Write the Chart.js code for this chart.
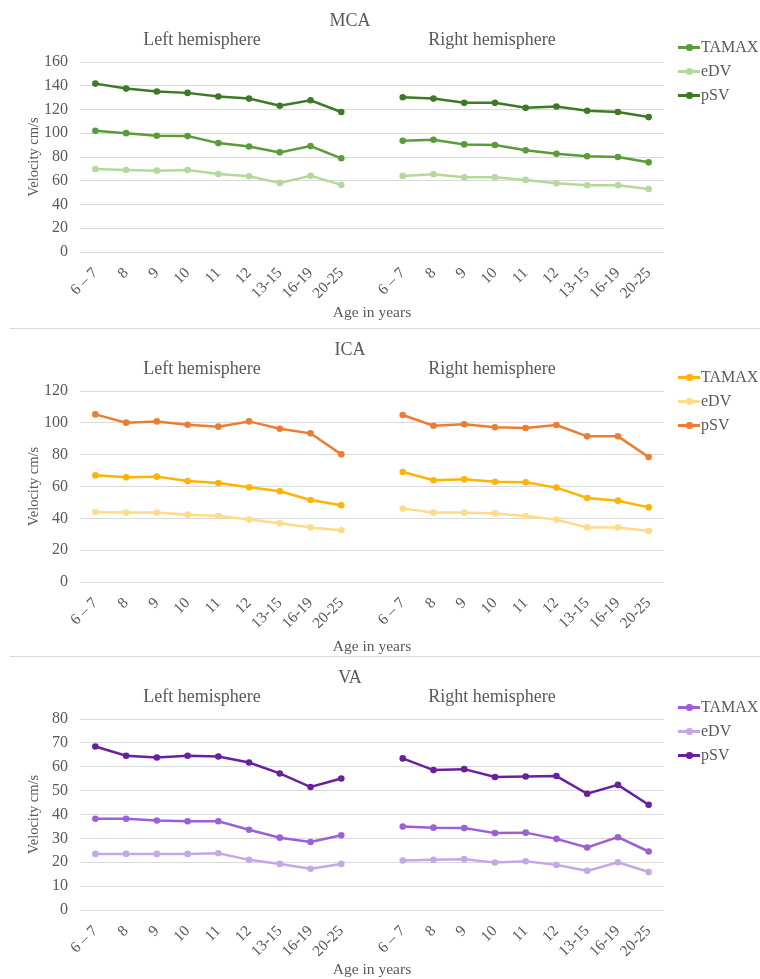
<!DOCTYPE html>
<html><head><meta charset="utf-8">
<script src="https://cdn.jsdelivr.net/npm/chart.js@4/dist/chart.umd.min.js"></script>
<style>
body{margin:0;background:#fff;}
#wrap{position:relative;width:760px;height:979px;overflow:hidden;font-family:"Liberation Serif","Times New Roman",serif;color:#595959;}
.panel{position:absolute;left:0;width:760px;}
.panel canvas{position:absolute;left:0;top:0;}
.sep{position:absolute;left:10px;width:750px;height:1px;background:#d9d9d9;}
.ttl{position:absolute;font-size:18px;white-space:nowrap;transform:translate(-50%,-50%);line-height:1;}
.legrow{position:absolute;left:678px;height:20px;white-space:nowrap;font-size:16px;line-height:20px;transform:translateY(-50%);}
.legline{position:absolute;left:0;top:9px;width:22px;height:2.5px;}
.legdot{position:absolute;left:8px;top:7px;width:6.5px;height:6.5px;border-radius:50%;}
.legtxt{position:absolute;left:23px;top:0;}
</style>
</head><body>
<div id="wrap"></div>
<script>
// ---------- data ----------
const ageGroups = ['6 – 7','8','9','10','11','12','13-15','16-19','20-25'];
const seriesNames = ['TAMAX','eDV','pSV'];
const panelTitles = ['MCA','ICA','VA'];
const sideTitles = ['Left hemisphere','Right hemisphere'];
const yAxisTitle = 'Velocity cm/s';
const xAxisTitle = 'Age in years';

const mcaLeftTAMAX  = [102.1,100.1,97.9,97.6,91.7,88.9,83.9,89.2,78.9];
const mcaLeftEDV    = [69.9,69.1,68.5,69.1,65.7,63.8,58.2,64.1,56.5];
const mcaLeftPSV    = [141.8,137.6,135.1,134.0,130.9,129.2,123.1,127.8,117.9];
const mcaRightTAMAX = [93.7,94.5,90.6,90.1,85.6,82.8,80.6,80.0,75.5];
const mcaRightEDV   = [64.1,65.5,63.0,63.0,60.7,57.9,56.2,56.2,53.1];
const mcaRightPSV   = [130.3,129.2,125.6,125.6,121.4,122.5,118.9,117.9,113.6];

const icaLeftTAMAX  = [67.0,65.8,66.2,63.4,62.2,59.5,57.0,51.5,48.2];
const icaLeftEDV    = [44.0,43.6,43.6,42.3,41.5,39.2,36.9,34.3,32.5];
const icaLeftPSV    = [105.3,100.1,100.9,98.8,97.6,100.9,96.3,93.4,80.2];
const icaRightTAMAX = [69.1,63.9,64.5,63.0,62.6,59.3,52.8,51.1,46.9];
const icaRightEDV   = [46.1,43.6,43.6,43.1,41.5,39.2,34.3,34.3,32.0];
const icaRightPSV   = [104.9,98.2,99.1,97.2,96.8,98.6,91.5,91.5,78.5];

const vaLeftTAMAX   = [38.2,38.2,37.5,37.2,37.2,33.6,30.3,28.5,31.3];
const vaLeftEDV     = [23.5,23.5,23.5,23.5,23.8,21.0,19.3,17.3,19.3];
const vaLeftPSV     = [68.5,64.6,63.9,64.6,64.3,61.8,57.2,51.5,55.1];
const vaRightTAMAX  = [35.0,34.5,34.3,32.2,32.4,29.8,26.2,30.5,24.5];
const vaRightEDV    = [20.7,21.0,21.3,19.9,20.4,18.9,16.4,20.0,15.9];
const vaRightPSV    = [63.5,58.6,59.0,55.7,55.9,56.1,48.7,52.4,44.1];

const yMaxes = [160,120,80];
const ySteps = [20,20,10];

// ---------- styles / layout ----------
const mcaColors = ['#5b9c3a','#b3d99c','#3c7a25'];
const icaColors = ['#ffb400','#ffdc85','#ed7d31'];
const vaColors  = ['#9c5fd8','#c6a7e6','#6a1f9f'];
const FAM = "'Liberation Serif','Times New Roman',serif";
const TXT = '#595959';

const panels = [
  {title:panelTitles[0], left:[mcaLeftTAMAX,mcaLeftEDV,mcaLeftPSV], right:[mcaRightTAMAX,mcaRightEDV,mcaRightPSV], colors:mcaColors, max:yMaxes[0], step:ySteps[0], top:0,   height:328, plotTop:62, plotBottom:252, agePad:5.5, legY:47},
  {title:panelTitles[1], left:[icaLeftTAMAX,icaLeftEDV,icaLeftPSV], right:[icaRightTAMAX,icaRightEDV,icaRightPSV], colors:icaColors, max:yMaxes[1], step:ySteps[1], top:329, height:327, plotTop:62, plotBottom:253, agePad:0, legY:48},
  {title:panelTitles[2], left:[vaLeftTAMAX,vaLeftEDV,vaLeftPSV],    right:[vaRightTAMAX,vaRightEDV,vaRightPSV],    colors:vaColors,  max:yMaxes[2], step:ySteps[2], top:657, height:322, plotTop:62, plotBottom:253, agePad:0, legY:50},
];

const wrap = document.getElementById('wrap');
[328,656].forEach(y=>{const s=document.createElement('div');s.className='sep';s.style.top=y+'px';wrap.appendChild(s);});

panels.forEach(p=>{
  const div = document.createElement('div');
  div.className='panel';
  div.style.top=p.top+'px'; div.style.height=p.height+'px';
  wrap.appendChild(div);
  const cv = document.createElement('canvas');
  cv.width=760; cv.height=p.height;
  cv.style.width='760px'; cv.style.height=p.height+'px';
  div.appendChild(cv);

  const addTxt=(t,x,y)=>{const d=document.createElement('div');d.className='ttl';d.textContent=t;d.style.left=x+'px';d.style.top=y+'px';div.appendChild(d);};
  addTxt(p.title,350,20);
  addTxt(sideTitles[0],202,39);
  addTxt(sideTitles[1],492,39);

  seriesNames.forEach((n,i)=>{
    const r=document.createElement('div');r.className='legrow';r.style.top=(p.legY+24*i)+'px';
    const l=document.createElement('div');l.className='legline';l.style.background=p.colors[i];
    const d=document.createElement('div');d.className='legdot';d.style.background=p.colors[i];
    const t=document.createElement('div');t.className='legtxt';t.textContent=n;
    r.appendChild(l);r.appendChild(d);r.appendChild(t);div.appendChild(r);
  });

  const labels=[...ageGroups,'',...ageGroups];
  new Chart(cv,{
    type:'line',
    data:{labels, datasets: seriesNames.map((n,i)=>({
      label:n, data:[...p.left[i],null,...p.right[i]],
      borderColor:p.colors[i], backgroundColor:p.colors[i],
      borderWidth:2.5, pointRadius:3.3, pointBorderWidth:0, pointHoverRadius:3.3,
      tension:0, spanGaps:false
    }))},
    options:{
      responsive:false, animation:false, devicePixelRatio:1,
      layout:{padding:{top:p.plotTop,right:96,left:0,bottom:0}},
      plugins:{legend:{display:false},tooltip:{enabled:false}},
      scales:{
        x:{
          offset:true,
          grid:{display:false,drawTicks:false,offset:true}, border:{display:false},
          ticks:{autoSkip:false,minRotation:45,maxRotation:45,padding:12,font:{family:FAM,size:15.5},color:TXT},
          title:{display:true,text:xAxisTitle,font:{family:FAM,size:15.5},color:TXT,padding:{top:0,bottom:p.agePad}},
          afterFit(s){s.height=p.height-p.plotBottom;}
        },
        y:{
          min:0,max:p.max,
          ticks:{stepSize:p.step,padding:12,font:{family:FAM,size:16},color:TXT},
          grid:{color:'#d9d9d9',drawTicks:false,lineWidth:1}, border:{display:false},
          title:{display:true,text:yAxisTitle,font:{family:FAM,size:14.5},color:TXT,padding:{top:25,bottom:0}},
          afterFit(s){s.width=80;}
        }
      }
    }
  });
});
</script>
</body></html>
